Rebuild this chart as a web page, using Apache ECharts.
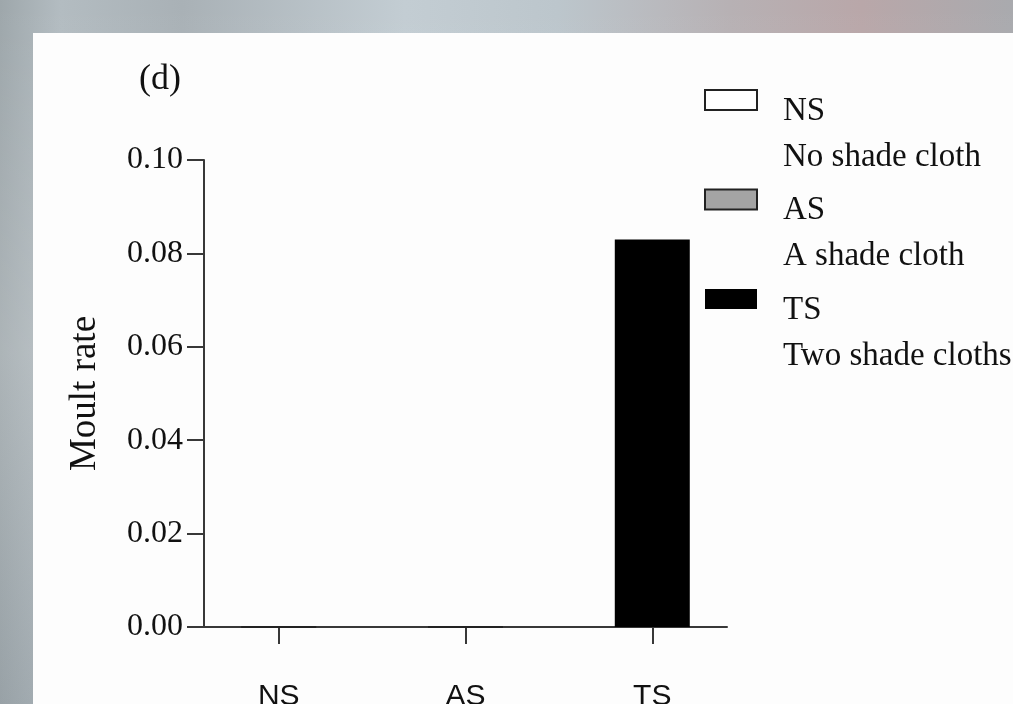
<!DOCTYPE html>
<html>
<head>
<meta charset="utf-8">
<script src="https://cdn.jsdelivr.net/npm/echarts@6/dist/echarts.min.js"></script>
<style>
  html, body { margin: 0; padding: 0; width: 1013px; height: 704px; overflow: hidden; }
  body {
    background:
      linear-gradient(180deg, rgba(255,255,255,0.0) 0%, rgba(255,255,255,0.15) 50%, rgba(120,130,140,0.15) 100%),
      linear-gradient(90deg, #9ea7ab 0%, #b3bcc1 6%, #a9b1b6 18%, #c3cdd3 40%, #bcc6cc 55%, #b7b1b4 72%, #b9a7a9 85%, #a9aaae 100%);
  }
  #panel { position: absolute; left: 33px; top: 33px; width: 980px; height: 671px; background: #fdfdfd; }
  #chart { position: absolute; left: 0; top: 0; width: 1013px; height: 704px; }
</style>
</head>
<body>
<div id="panel"></div>
<div id="chart"></div>
<script>
// Moult rate by shading treatment
const categories = ['NS', 'AS', 'TS'];
const descriptions = ['No shade cloth', 'A shade cloth', 'Two shade cloths'];
const moultRate = [0, 0, 0.083];
const yTicks = [0, 0.02, 0.04, 0.06, 0.08, 0.10];
const fills = ['#ffffff', '#a4a4a4', '#000000'];

const SERIF = '"Liberation Serif", "Times New Roman", serif';
const SANS = '"Liberation Sans", Arial, sans-serif';
const INK = '#111111';

const chart = echarts.init(document.getElementById('chart'), null, { renderer: 'canvas' });

const series = categories.map((name, i) => ({
  name: name,
  type: 'bar',
  barWidth: 75,
  barGap: '-100%',
  data: [[i, moultRate[i]]],
  itemStyle: {
    color: fills[i],
    borderColor: '#222222',
    borderWidth: i === 2 ? 0 : 2
  },
  emphasis: { disabled: true }
}));

const legendText = {};
categories.forEach((c, i) => { legendText[c] = descriptions[i]; });

chart.setOption({
  animation: false,
  backgroundColor: 'transparent',
  title: {
    text: '(d)',
    left: 139,
    top: 62,
    padding: 0,
    textStyle: { fontFamily: SERIF, fontSize: 36, fontWeight: 'normal', color: INK }
  },
  grid: { left: 204, top: 160, right: 286, bottom: 77, containLabel: false, outerBoundsMode: 'none' },
  legend: {
    orient: 'vertical',
    left: 704,
    top: 20,
    padding: 0,
    itemGap: -54,
    itemWidth: 52,
    itemHeight: 20,
    icon: 'rect',
    selectedMode: false,
    data: categories,
    formatter: name => '{g| }\n{n|' + name + '}\n{d|' + legendText[name] + '}',
    textStyle: {
      fontFamily: SERIF,
      fontSize: 33,
      color: INK,
      padding: [0, 0, 0, 21],
      rich: {
        g: { height: 68, lineHeight: 68, fontSize: 10 },
        n: { fontFamily: SERIF, fontSize: 33, lineHeight: 46, color: INK },
        d: { fontFamily: SERIF, fontSize: 33, lineHeight: 46, color: INK }
      }
    }
  },
  xAxis: {
    type: 'value',
    min: -0.4,
    max: 2.4,
    splitLine: { show: false },
    axisLine: { show: true, onZero: false, lineStyle: { color: '#383838', width: 2 } },
    axisTick: {
      show: true,
      length: 17,
      customValues: categories.map((c, i) => i),
      lineStyle: { color: '#383838', width: 2 }
    },
    axisLabel: {
      customValues: categories.map((c, i) => i),
      formatter: v => categories[Math.round(v)],
      margin: 55,
      fontFamily: SANS,
      fontSize: 30,
      color: INK
    }
  },
  yAxis: {
    type: 'value',
    min: 0,
    max: 0.1,
    interval: 0.02,
    name: 'Moult rate',
    nameLocation: 'middle',
    nameGap: 100,
    nameTextStyle: { fontFamily: SERIF, fontSize: 37, color: INK },
    splitLine: { show: false },
    axisLine: { show: true, onZero: false, lineStyle: { color: '#383838', width: 2 } },
    axisTick: { show: true, length: 17, lineStyle: { color: '#383838', width: 2 } },
    axisLabel: {
      margin: 21,
      fontFamily: SERIF,
      fontSize: 32,
      color: INK,
      formatter: v => {
        const t = yTicks.find(k => Math.abs(k - v) < 1e-9);
        return (t !== undefined ? t : v).toFixed(2);
      }
    }
  },
  series: series
});
</script>
</body>
</html>
